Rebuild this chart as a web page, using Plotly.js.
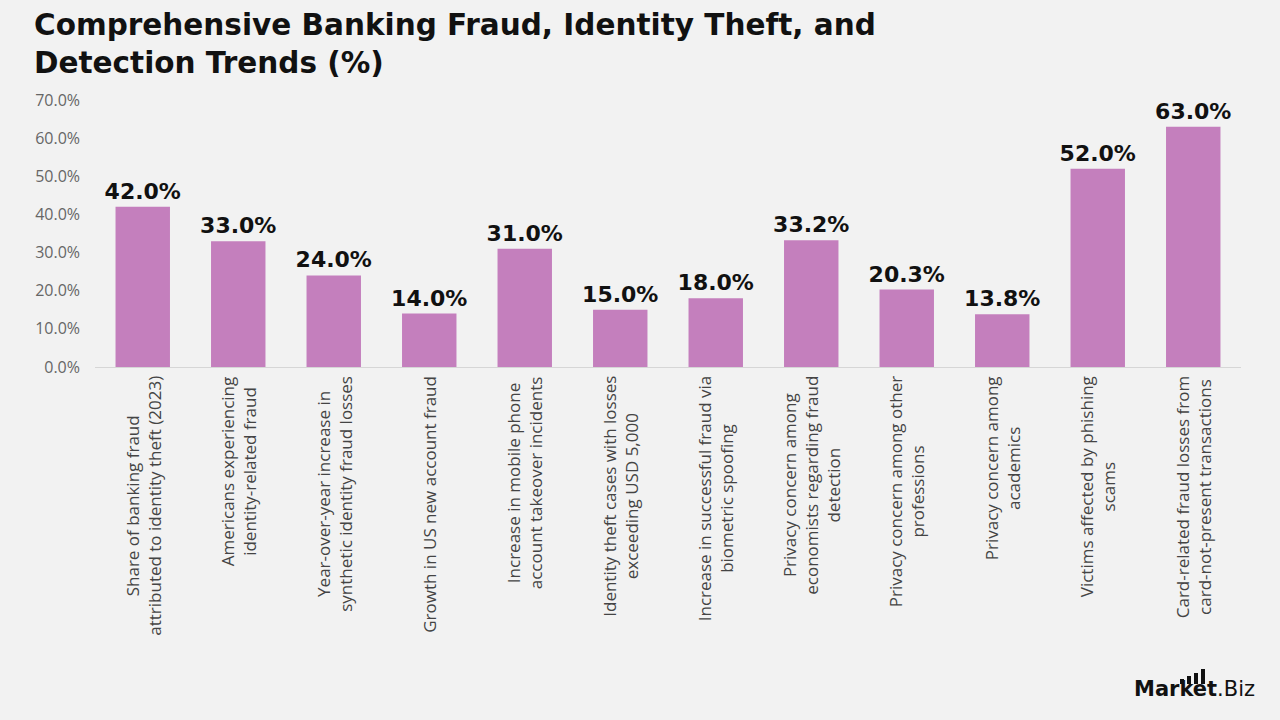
<!DOCTYPE html>
<html>
<head>
<meta charset="utf-8">
<script src="https://cdn.plot.ly/plotly-3.0.1.min.js"></script>
<style>
html,body{margin:0;padding:0;background:#f2f2f2;}
#chart{width:1280px;height:720px;}
</style>
</head>
<body>
<div id="chart"></div>
<script>
const categories = [
  "Share of banking fraud<br>attributed to identity theft (2023)",
  "Americans experiencing<br>identity-related fraud",
  "Year-over-year increase in<br>synthetic identity fraud losses",
  "Growth in US new account fraud",
  "Increase in mobile phone<br>account takeover incidents",
  "Identity theft cases with losses<br>exceeding USD 5,000",
  "Increase in successful fraud via<br>biometric spoofing",
  "Privacy concern among<br>economists regarding fraud<br>detection",
  "Privacy concern among other<br>professions",
  "Privacy concern among<br>academics",
  "Victims affected by phishing<br>scams",
  "Card-related fraud losses from<br>card-not-present transactions"
];
const values = [42.0, 33.0, 24.0, 14.0, 31.0, 15.0, 18.0, 33.2, 20.3, 13.8, 52.0, 63.0];
const tickVals = [0, 10, 20, 30, 40, 50, 60, 70];
const tickText = ["0.0%", "10.0%", "20.0%", "30.0%", "40.0%", "50.0%", "60.0%", "70.0%"];

const FONT = "Open Sans, Lato, sans-serif";
const BOLD = "DejaVu Sans, Open Sans, sans-serif";
const xIdx = categories.map((c, i) => i);

const trace = {
  type: "bar",
  x: xIdx,
  y: values,
  marker: {color: "#c47fbd"},
  text: values.map(v => v.toFixed(1) + "%"),
  textposition: "outside",
  constraintext: "none",
  textfont: {family: BOLD, size: 22, color: "#111111", weight: 700},
  cliponaxis: false,
  hoverinfo: "none"
};

const labelAnnotations = categories.map((c, i) => ({
  xref: "x", yref: "paper",
  x: i, y: 0,
  xanchor: "center", yanchor: "top",
  yshift: -7,
  text: c,
  textangle: -90,
  align: "center",
  showarrow: false,
  font: {family: FONT, size: 17, color: "#444444"}
}));

const logo = [
  {xref: "paper", yref: "paper", x: (1257 - 95) / 1146, y: -(703 - 367) / 267,
   xanchor: "right", yanchor: "bottom",
   text: "<b>Market</b>.Biz", showarrow: false,
   font: {family: BOLD, size: 21, color: "#111111"}}
];

function px(x) { return (x - 95) / 1146; }
function py(y) { return (367 - y) / 267; }
const logoBars = [
  [1180, 1184, 679], [1187, 1191, 676], [1194, 1198, 673], [1201, 1205, 669]
].map(b => ({
  type: "rect", xref: "paper", yref: "paper",
  x0: px(b[0]), x1: px(b[1]), y0: py(684), y1: py(b[2]),
  fillcolor: "#111111", line: {width: 0}
}));

const layout = {
  width: 1280, height: 720,
  paper_bgcolor: "#f2f2f2",
  plot_bgcolor: "#f2f2f2",
  margin: {l: 95, r: 39, t: 100, b: 353},
  bargap: 0.43,
  showlegend: false,
  title: {
    text: "<b>Comprehensive Banking Fraud, Identity Theft, and<br>Detection Trends (%)</b>",
    x: 34 / 1280, xanchor: "left", xref: "container",
    y: 0.952, yanchor: "top", yref: "container",
    font: {family: BOLD, size: 29.5, color: "#111111"}
  },
  xaxis: {
    range: [-0.5, 11.5],
    showticklabels: false,
    showgrid: false,
    zeroline: false,
    showline: true,
    linecolor: "#d6d6d6",
    linewidth: 1,
    ticks: ""
  },
  yaxis: {
    range: [0, 70],
    tickvals: tickVals,
    ticktext: tickText,
    showgrid: false,
    zeroline: false,
    showline: false,
    ticks: "",
    ticklabelstandoff: 14,
    tickfont: {family: FONT, size: 16, color: "#666666"}
  },
  annotations: labelAnnotations.concat(logo),
  shapes: logoBars
};

Plotly.newPlot("chart", [trace], layout, {displayModeBar: false, staticPlot: true});
</script>
</body>
</html>
